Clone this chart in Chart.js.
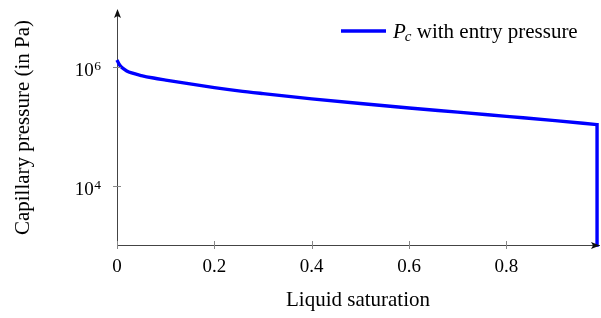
<!DOCTYPE html>
<html>
<head>
<meta charset="utf-8">
<script src="https://cdn.jsdelivr.net/npm/chart.js@4"></script>
<style>
  html, body { margin: 0; padding: 0; background: #fff; }
  #wrap { width: 601px; height: 318px; }
</style>
</head>
<body>
<div id="wrap"><canvas id="pcChart"></canvas></div>
<script>
// values
let saturation = [0, 0.005, 0.01, 0.02, 0.03, 0.05, 0.075, 0.1, 0.15, 0.2, 0.25, 0.3, 0.4, 0.5, 0.6, 0.7, 0.8, 0.9, 0.986];
let pressure = [1.3e6, 1.08e6, 9.7e5, 8.5e5, 7.85e5, 7.1e5, 6.45e5, 5.96e5, 5.13e5, 4.45e5, 3.92e5, 3.52e5, 2.88e5, 2.4e5, 2.02e5, 1.72e5, 1.46e5, 1.24e5, 1.06e5];
let dropSaturation = [0.986, 0.986];
let dropPressure = [1.06e5, 1000];
let xTicks = [0, 0.2, 0.4, 0.6, 0.8];
let yTicks = [1e4, 1e6];
let yTickExp = ['4', '6'];
let legendLabel = ' with entry pressure';

let serif = '"Liberation Serif", "DejaVu Serif", serif';

let curvePoints = saturation.map(function (s, i) {
  return { x: s, y: pressure[i] };
});
let dropPoints = dropSaturation.map(function (s, i) {
  return { x: s, y: dropPressure[i] };
});

// pgfplots-like axis decorations: ticks across the axis, arrows, y labels, legend
let axisExtras = {
  id: 'axisExtras',
  afterDraw: function (chart) {
    let ctx = chart.ctx;
    let xs = chart.scales.x;
    let ys = chart.scales.y;
    let area = chart.chartArea;
    ctx.save();

    // ticks
    ctx.strokeStyle = '#888';
    ctx.lineWidth = 1;
    xTicks.forEach(function (v) {
      let px = Math.round(xs.getPixelForValue(v)) + 0.5;
      ctx.beginPath();
      ctx.moveTo(px, area.bottom - 4);
      ctx.lineTo(px, area.bottom + 4);
      ctx.stroke();
    });
    yTicks.forEach(function (v) {
      let py = Math.round(ys.getPixelForValue(v)) + 0.5;
      ctx.beginPath();
      ctx.moveTo(area.left - 4, py);
      ctx.lineTo(area.left + 4, py);
      ctx.stroke();
    });

    // arrows
    ctx.fillStyle = '#111';
    ctx.beginPath();
    ctx.moveTo(area.left + 0.5, area.top - 1);
    ctx.lineTo(area.left - 3, area.top + 8);
    ctx.lineTo(area.left + 0.5, area.top + 6);
    ctx.lineTo(area.left + 4, area.top + 8);
    ctx.closePath();
    ctx.fill();
    ctx.beginPath();
    ctx.moveTo(area.right + 1, area.bottom + 0.5);
    ctx.lineTo(area.right - 8, area.bottom - 3);
    ctx.lineTo(area.right - 6, area.bottom + 0.5);
    ctx.lineTo(area.right - 8, area.bottom + 4);
    ctx.closePath();
    ctx.fill();

    // y tick labels 10^n
    ctx.fillStyle = '#000';
    ctx.textBaseline = 'alphabetic';
    yTicks.forEach(function (v, i) {
      let py = ys.getPixelForValue(v);
      ctx.font = '13.5px ' + serif;
      let ew = ctx.measureText(yTickExp[i]).width;
      let right = area.left - 16;
      ctx.textAlign = 'right';
      ctx.fillText(yTickExp[i], right, py + 3);
      ctx.font = '19px ' + serif;
      ctx.fillText('10', right - ew - 0.5, py + 9.5);
    });

    // legend
    ctx.strokeStyle = '#0000ff';
    ctx.lineWidth = 3.4;
    ctx.beginPath();
    ctx.moveTo(341, 31);
    ctx.lineTo(386, 31);
    ctx.stroke();
    ctx.textAlign = 'left';
    ctx.font = 'italic 21px ' + serif;
    ctx.fillText('P', 393, 38);
    let pw = ctx.measureText('P').width;
    ctx.font = 'italic 15px ' + serif;
    ctx.fillText('c', 393 + pw - 1, 41);
    let cw = ctx.measureText('c').width;
    ctx.font = '21px ' + serif;
    ctx.fillText(legendLabel, 393 + pw - 1 + cw, 38);

    ctx.restore();
  },
};

let ctx = document.getElementById('pcChart').getContext('2d');
let pcChart = new Chart(ctx, {
  type: 'line',
  data: {
    datasets: [
      {
        data: curvePoints,
        borderColor: '#0000ff',
        borderWidth: 3.4,
        pointRadius: 0,
        cubicInterpolationMode: 'monotone',
        fill: false,
        clip: false,
      },
      {
        data: dropPoints,
        borderColor: '#0000ff',
        borderWidth: 3.4,
        borderCapStyle: 'square',
        pointRadius: 0,
        fill: false,
        clip: false,
      },
    ],
  },
  options: {
    responsive: true,
    maintainAspectRatio: false,
    animation: false,
    layout: { padding: { left: 0, top: 10, right: 2, bottom: 0 } },
    plugins: { legend: { display: false }, tooltip: { enabled: false } },
    scales: {
      x: {
        type: 'linear',
        min: 0,
        max: 0.99,
        afterBuildTicks: function (scale) {
          scale.ticks = xTicks.map(function (v) {
            return { value: v };
          });
        },
        afterFit: function (scale) {
          scale.height = 73;
        },
        grid: { display: false, drawTicks: false },
        border: { display: true, color: '#444', width: 1 },
        ticks: {
          color: '#000',
          font: { family: serif, size: 19 },
          padding: 11,
          maxRotation: 0,
        },
        title: {
          display: true,
          text: 'Liquid saturation',
          color: '#000',
          font: { family: serif, size: 21 },
          padding: { top: 0, bottom: 5 },
        },
      },
      y: {
        type: 'logarithmic',
        min: 1000,
        max: 9e6,
        afterBuildTicks: function (scale) {
          scale.ticks = yTicks.map(function (v) {
            return { value: v };
          });
        },
        afterFit: function (scale) {
          scale.width = 117;
        },
        grid: { display: false, drawTicks: false },
        border: { display: true, color: '#444', width: 1 },
        ticks: { display: false },
        title: {
          display: true,
          text: 'Capillary pressure (in Pa)',
          color: '#000',
          font: { family: serif, size: 21 },
          padding: { top: 11, bottom: 0 },
        },
      },
    },
  },
  plugins: [axisExtras],
});
</script>
</body>
</html>
